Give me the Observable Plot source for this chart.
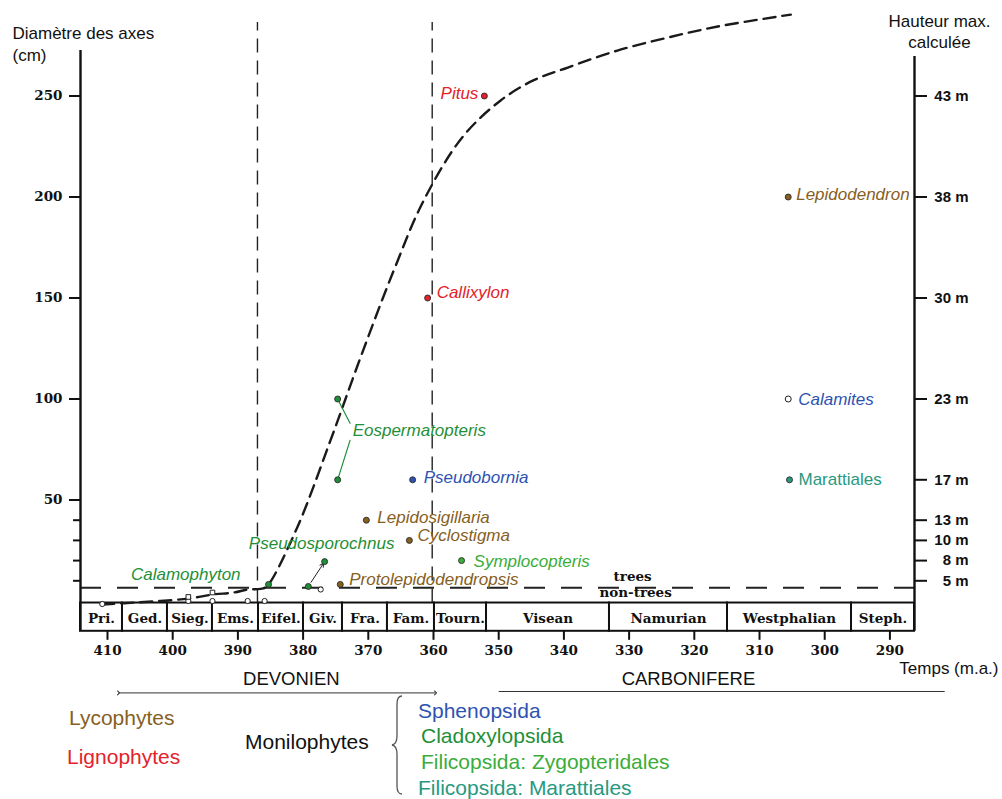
<!DOCTYPE html>
<html><head><meta charset="utf-8">
<script src="https://cdn.jsdelivr.net/npm/d3@7"></script>
<script src="https://cdn.jsdelivr.net/npm/@observablehq/plot@0.6"></script>
<style>
body{margin:0;background:#fff;width:1002px;height:799px;position:relative;overflow:hidden;font-family:"Liberation Sans",Arial,sans-serif;}
#chart{position:absolute;left:0;top:0;}
.lg{position:absolute;font-size:21px;line-height:24px;white-space:nowrap;}
#brace{position:absolute;left:390px;top:694px;}
</style></head><body>
<div id="chart"></div>
<div id="legend"></div>
<script>
// ---------- DATA ----------
const stageNames = ["Pri.","Ged.","Sieg.","Ems.","Eifel.","Giv.","Fra.","Fam.","Tourn.","Visean","Namurian","Westphalian","Steph."];
const stageBounds = [414.14,407.70,400.80,393.90,386.84,379.94,373.96,367.06,359.85,351.87,333.01,314.91,295.89,286.23];

const xTicks = [410,400,390,380,370,360,350,340,330,320,310,300,290];
const leftLabeledTicks = [50,100,150,200,250];
const leftMinorTicks = [10,20,30,40];
const rightTickDiam = [250,200,150,100,60,40,30,20,10];
const rightTickLabels = ["43 m","38 m","30 m","23 m","17 m","13 m","10 m","8 m","5 m"];

const taxa = ["Pitus","Callixylon","Lepidodendron","Calamites","Marattiales","Pseudobornia","Eospermatopteris","Eospermatopteris","Lepidosigillaria","Cyclostigma","Symplocopteris","Pseudosporochnus","Pseudosporochnus","Protolepidodendropsis","Calamophyton"];
const taxonGroup = ["Lignophytes","Lignophytes","Lycophytes","Sphenopsida","Marattiales","Sphenopsida","Cladoxylopsida","Cladoxylopsida","Lycophytes","Lycophytes","Zygopteridales","Cladoxylopsida","Cladoxylopsida","Lycophytes","Cladoxylopsida"];
const ageMa = [352.2,360.9,305.6,305.6,305.4,363.2,374.7,374.7,370.3,363.7,355.7,376.7,379.2,374.3,385.3];
const diameterCm = [250,150,200,100,60,60,100,60,40,30,20,19.5,7.2,8.2,8.2];
const hollow = [false,false,false,true,false,false,false,false,false,false,false,false,false,false,false];

// unlabelled small markers near the base
const minorAge = [410.8,397.6,393.9,388.5,385.9,377.3,397.6,393.9];
const minorDiam = [-1.5,0,0,0,0,5.7,2.0,4.2];
const minorShape = ["circle","circle","circle","circle","circle","circle","square","square"];

// dashed trend curve
const trendAge = [410.8,405.4,397.6,393.9,390.6,388.5,386.1,385.3,380.9,375.8,371.2,366.1,361.5,355.6,349.7,344.7,339.4,331.8,324.1,316.4,305.2];
const trendDiam = [-1.7,-0.7,1.2,3.2,4.2,5.7,6.2,8.2,36.4,79.5,120.5,163.6,198.3,229.5,247.8,257.7,264.1,272.5,278.9,284.4,290.3];

const dividerAges = [387.0,360.2];
const dividerTop = 286.4;
const treeThreshold = 6.5;
const treeLabelAge = 329;

const periodNames = ["DEVONIEN","CARBONIFERE"];
const periodFrom = [408.31,350.0];
const periodTo = [359.69,281.6];
const periodLabelAt = [381.8,320.9];
const periodLineD = -45.5;

const groups = ["Lycophytes","Lignophytes","Sphenopsida","Cladoxylopsida","Zygopteridales","Marattiales"];
const groupColors = ["#86601e","#e3222b","#2e52b2","#1f8f37","#3aad3a","#28997f"];

const legendLeft = ["Lycophytes","Lignophytes"];
const legendMid = "Monilophytes";
const legendRight = ["Sphenopsida","Cladoxylopsida","Filicopsida: Zygopteridales","Filicopsida: Marattiales"];
const legendRightGroup = ["Sphenopsida","Cladoxylopsida","Zygopteridales","Marattiales"];

// ---------- LAYOUT (label offsets in px) ----------
const labelLayout = {
  "Pitus": {anchor:"end", dx:-6, dy:-2},
  "Callixylon": {anchor:"start", dx:9, dy:-5},
  "Lepidodendron": {anchor:"start", dx:8, dy:-2},
  "Calamites": {anchor:"start", dx:10, dy:1},
  "Marattiales": {anchor:"start", dx:9, dy:0, upright:true},
  "Pseudobornia": {anchor:"start", dx:11, dy:-2},
  "Eospermatopteris": {anchor:"start", dx:15, dy:32},
  "Lepidosigillaria": {anchor:"start", dx:11, dy:-3},
  "Cyclostigma": {anchor:"start", dx:8, dy:-5},
  "Symplocopteris": {anchor:"start", dx:12, dy:1},
  "Pseudosporochnus": {anchor:"middle", dx:-3, dy:-18},
  "Protolepidodendropsis": {anchor:"start", dx:9, dy:-5},
  "Calamophyton": {anchor:"end", dx:-28, dy:-10}
};

// ---------- BUILD ----------
const serif = "'DejaVu Serif', serif";
const sans = "'Liberation Sans', Arial, sans-serif";
const stages = stageNames.map((name,i)=>({name, from: stageBounds[i], to: stageBounds[i+1], mid:(stageBounds[i]+stageBounds[i+1])/2}));
const points = taxa.map((name,i)=>({name, group: taxonGroup[i], age: ageMa[i], diam: diameterCm[i], hollow: hollow[i]}));
const labelled = points.filter((p,i)=>taxa.indexOf(p.name)===i);
const minor = minorAge.map((a,i)=>({age:a, diam:minorDiam[i], shape:minorShape[i]}));
const trend = trendAge.map((a,i)=>({age:a, diam:trendDiam[i]}));
const periods = periodNames.map((n,i)=>({name:n, from:periodFrom[i], to:periodTo[i], labelAt:periodLabelAt[i]}));
const xMax = stageBounds[0], xMin = stageBounds[stageBounds.length-1];
const rightMap = new Map(rightTickDiam.map((d,i)=>[d, rightTickLabels[i]]));

// Eospermatopteris leader lines (dot -> label)
const eos = points.filter(p=>p.name==="Eospermatopteris");
const leaders = [
  {x1:eos[0].age, y1:eos[0].diam, x2:eos[0].age-1.9, y2:88},
  {x1:eos[1].age, y1:eos[1].diam, x2:eos[1].age-1.9, y2:79.5}
];
const pso = points.filter(p=>p.name==="Pseudosporochnus");

const labelMarks = labelled.map(p=>{
  const L = labelLayout[p.name];
  return Plot.text([p], {x:"age", y:"diam", text:"name", fill:"group", textAnchor:L.anchor, dx:L.dx, dy:L.dy,
    fontSize:17, fontFamily:sans, fontStyle: L.upright ? "normal" : "italic"});
});

const chart = Plot.plot({
  width:1002, height:700,
  marginLeft:80, marginRight:88, marginTop:8.64, marginBottom:69.2,
  x:{domain:[xMax,xMin]},
  y:{domain:[-15,293]},
  color:{domain:groups, range:groupColors},
  style:{fontFamily:sans, background:"white", overflow:"visible"},
  marks:[
    // stage bar
    Plot.rect(stages, {x1:"from", x2:"to", y1:-15, y2:-1, fill:"white", stroke:"#111", strokeWidth:2}),
    Plot.text(stages, {x:"mid", y:-8, text:"name", dy:1.5, fontFamily:serif, fontWeight:"bold", fontSize:13.5, fill:"#111"}),
    // vertical dashed dividers
    Plot.ruleX(dividerAges, {y1:-1, y2:dividerTop, stroke:"#222", strokeWidth:1.4, strokeDasharray:"14,8"}),
    // trees / non-trees threshold
    Plot.ruleY([treeThreshold], {stroke:"#222", strokeWidth:2, strokeDasharray:"21,16"}),
    Plot.text(["trees"], {x:()=>treeLabelAge, y:()=>treeThreshold, dy:-11, dx:-3, fontFamily:serif, fontWeight:"bold", fontSize:13.5, fill:"#111"}),
    Plot.text(["non-trees"], {x:()=>treeLabelAge, y:()=>treeThreshold, dy:5, fontFamily:serif, fontWeight:"bold", fontSize:13.5, fill:"#111"}),
    // trend curve
    Plot.line(trend, {x:"age", y:"diam", curve:"catmull-rom", stroke:"#1a1a1a", strokeWidth:2.4, strokeDasharray:"12,7"}),
    // leaders and arrow
    Plot.arrow(leaders, {x1:"x1", y1:"y1", x2:"x2", y2:"y2", headLength:0, insetStart:3, stroke:"#1f8f37", strokeWidth:1.2}),
    Plot.arrow([{a:pso[1], b:pso[0]}], {x1:d=>d.a.age, y1:d=>d.a.diam, x2:d=>d.b.age, y2:d=>d.b.diam, insetStart:5, insetEnd:2, headLength:6, stroke:"#222", strokeWidth:1}),
    // small base markers
    Plot.dot(minor.filter(m=>m.shape==="circle"), {x:"age", y:"diam", r:2.6, fill:"white", stroke:"#222", strokeWidth:1}),
    Plot.dot(minor.filter(m=>m.shape==="square"), {x:"age", y:"diam", r:2.6, symbol:"square", fill:"white", stroke:"#222", strokeWidth:1}),
    // taxa
    Plot.dot(points.filter(p=>!p.hollow), {x:"age", y:"diam", r:3, fill:"group", stroke:"#2a2a2a", strokeWidth:0.9}),
    Plot.dot(points.filter(p=>p.hollow), {x:"age", y:"diam", r:3, fill:"white", stroke:"#222", strokeWidth:1}),
    ...labelMarks,
    // axis lines
    Plot.ruleX([xMax], {y1:-15, y2:272.5, stroke:"#111", strokeWidth:2.4}),
    Plot.ruleX([xMin], {y1:-15, y2:269.5, stroke:"#111", strokeWidth:2.4}),
    // axes
    Plot.axisY({anchor:"left", ticks:leftLabeledTicks, tickSize:11, tickPadding:7, tickFormat:d=>String(d), label:null,
      fontFamily:serif, fontWeight:"bold", fontSize:13.5, strokeWidth:2, stroke:"#111", fill:"#111"}),
    Plot.axisY({anchor:"left", ticks:leftMinorTicks, tickSize:7, tickFormat:()=>"", label:null, strokeWidth:2, stroke:"#111"}),
    Plot.axisY({anchor:"right", ticks:rightTickDiam, tickSize:12, tickPadding:42, textAnchor:"end", tickFormat:d=>rightMap.get(d), label:null,
      fontFamily:sans, fontWeight:"bold", fontSize:15, strokeWidth:2, stroke:"#111", fill:"#111"}),
    Plot.axisX({anchor:"bottom", ticks:xTicks, tickSize:9, tickPadding:5, tickFormat:d=>String(d), label:null,
      fontFamily:serif, fontWeight:"bold", fontSize:13.5, strokeWidth:2, stroke:"#111", fill:"#111"}),
    // titles
    Plot.text(["Diamètre des axes\n(cm)"], {frameAnchor:"top-left", lineAnchor:"middle", dx:-68, dy:33.4, textAnchor:"start", lineHeight:1.3, fontSize:17, fill:"#111"}),
    Plot.text(["Hauteur max.\ncalculée"], {frameAnchor:"top-right", lineAnchor:"middle", dx:25, dy:22, textAnchor:"middle", lineHeight:1.2, fontSize:17, fill:"#111"}),
    Plot.text(["Temps (m.a.)"], {frameAnchor:"bottom-right", lineAnchor:"middle", dx:84, dy:37, textAnchor:"end", fontSize:17, fill:"#111"}),
    // periods
    Plot.text(periods, {x:"labelAt", text:"name", frameAnchor:"bottom", lineAnchor:"middle", dy:48, fontSize:18.5, fill:"#111"}),
    Plot.link(periods.filter(p=>p.name==="DEVONIEN"), {x1:"from", x2:"to", y1:()=>periodLineD, y2:()=>periodLineD, stroke:"#333", strokeWidth:1, markerStart:"arrow", markerEnd:"arrow"}),
    Plot.link(periods.filter(p=>p.name!=="DEVONIEN"), {x1:"from", x2:"to", y1:()=>periodLineD+0.7, y2:()=>periodLineD+0.7, stroke:"#333", strokeWidth:1})
  ]
});
document.getElementById("chart").appendChild(chart);

// ---------- LEGEND (below the SVG) ----------
const colorOf = g => groupColors[groups.indexOf(g)];
const lg = document.getElementById("legend");
const leftPos = [[69,718],[67,757]];
legendLeft.forEach((t,i)=>{
  const s=document.createElement("div"); s.className="lg"; s.textContent=t;
  s.style.left=leftPos[i][0]+"px"; s.style.top=(leftPos[i][1]-12)+"px"; s.style.color=colorOf(t); lg.appendChild(s);
});
{
  const s=document.createElement("div"); s.className="lg"; s.textContent=legendMid;
  s.style.left="245px"; s.style.top=(742-12)+"px"; s.style.color="#111"; lg.appendChild(s);
}
const rightPos = [[418,711],[421,736],[421,762],[418,788]];
legendRight.forEach((t,i)=>{
  const s=document.createElement("div"); s.className="lg"; s.textContent=t;
  s.style.left=rightPos[i][0]+"px"; s.style.top=(rightPos[i][1]-12)+"px"; s.style.color=colorOf(legendRightGroup[i]); lg.appendChild(s);
});
lg.insertAdjacentHTML("beforeend",
 '<svg id="brace" width="16" height="102"><path d="M12,2 Q7,2 7,10 L7,42 Q7,50 2,51 Q7,52 7,60 L7,92 Q7,100 12,100" fill="none" stroke="#555" stroke-width="1.3"/></svg>');
</script></body></html>
